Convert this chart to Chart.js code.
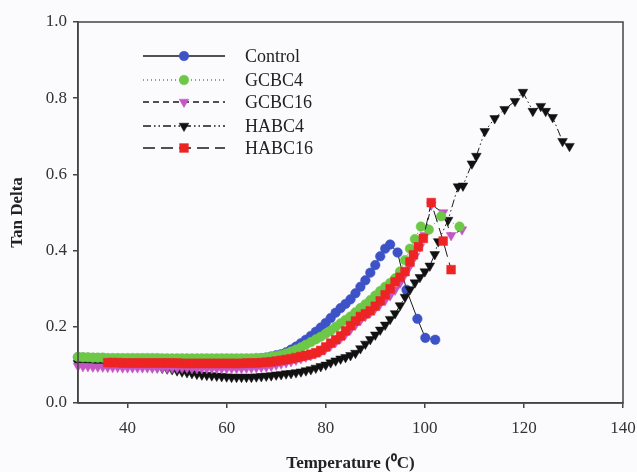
<!DOCTYPE html>
<html>
<head>
<meta charset="utf-8">
<script src="https://cdn.jsdelivr.net/npm/chart.js@4.4.1/dist/chart.umd.min.js"></script>
<style>
  html, body { margin: 0; padding: 0; background: #fbfbfd; }
  #wrap { width: 637px; height: 472px; }
</style>
</head>
<body>
<div id="wrap"><canvas id="c" width="637" height="472"></canvas></div>
<script>
// ---- Data ----
const seriesNames = ['Control', 'GCBC4', 'GCBC16', 'HABC4', 'HABC16'];
const xTicks = [40, 60, 80, 100, 120, 140];
const yTicks = [0.0, 0.2, 0.4, 0.6, 0.8, 1.0];

const controlX = [30,31,32,33,34,35,36,37,38,39,40,41,42,43,44,45,46,47,48,49,50,51,52,53,54,55,56,57,58,59,60,61,62,63,64,65,66,67,68,69,70,71,72,73,74,75,76,77,78,79,80,81,82,83,84,85,86,87,88,89,90,91,92,93,94.5,96.3,98.5,100.1,102.1];
const controlY = [0.120,0.119,0.118,0.118,0.117,0.117,0.116,0.116,0.116,0.115,0.115,0.115,0.115,0.114,0.114,0.114,0.114,0.113,0.113,0.113,0.113,0.112,0.112,0.112,0.112,0.112,0.112,0.112,0.112,0.112,0.112,0.112,0.113,0.113,0.114,0.115,0.116,0.117,0.119,0.122,0.125,0.128,0.133,0.140,0.148,0.157,0.166,0.176,0.187,0.198,0.210,0.223,0.237,0.249,0.260,0.272,0.288,0.305,0.322,0.342,0.362,0.385,0.405,0.416,0.395,0.297,0.221,0.171,0.166];

const gc4X = [30,31,32,33,34,35,36,37,38,39,40,41,42,43,44,45,46,47,48,49,50,51,52,53,54,55,56,57,58,59,60,61,62,63,64,65,66,67,68,69,70,71,72,73,74,75,76,77,78,79,80,81,82,83,84,85,86,87,88,89,90,91,92,93,94,95,96,97,98,99.2,100.8,103.3,107];
const gc4Y = [0.121,0.120,0.120,0.119,0.119,0.119,0.118,0.118,0.118,0.118,0.118,0.118,0.118,0.118,0.118,0.118,0.118,0.117,0.117,0.117,0.117,0.117,0.117,0.117,0.117,0.117,0.117,0.117,0.117,0.117,0.117,0.117,0.117,0.117,0.117,0.117,0.118,0.118,0.119,0.121,0.123,0.126,0.130,0.135,0.140,0.146,0.153,0.160,0.167,0.174,0.182,0.190,0.200,0.209,0.218,0.227,0.238,0.249,0.259,0.270,0.282,0.294,0.305,0.315,0.327,0.345,0.375,0.405,0.430,0.463,0.455,0.490,0.463];

const gc16X = [30,31,32,33,34,35,36,37,38,39,40,41,42,43,44,45,46,47,48,49,50,51,52,53,54,55,56,57,58,59,60,61,62,63,64,65,66,67,68,69,70,71,72,73,74,75,76,77,78,79,80,81,82,83,84,85,86,87,88,89,90,91,92,93,94,95,96,97,98,99,100,101.3,103.7,105.3,107.5];
const gc16Y = [0.097,0.096,0.096,0.095,0.095,0.095,0.094,0.094,0.094,0.093,0.093,0.093,0.093,0.093,0.093,0.092,0.092,0.092,0.092,0.092,0.092,0.092,0.092,0.091,0.091,0.091,0.091,0.091,0.091,0.091,0.091,0.091,0.091,0.091,0.092,0.092,0.093,0.094,0.095,0.097,0.100,0.103,0.106,0.109,0.113,0.117,0.121,0.125,0.130,0.136,0.143,0.151,0.160,0.170,0.181,0.193,0.205,0.217,0.228,0.238,0.249,0.260,0.270,0.282,0.297,0.315,0.338,0.360,0.385,0.410,0.440,0.520,0.500,0.440,0.455];

const ha4X = [30,31,32,33,34,35,36,37,38,39,40,41,42,43,44,45,46,47,48,49,50,51,52,53,54,55,56,57,58,59,60,61,62,63,64,65,66,67,68,69,70,71,72,73,74,75,76,77,78,79,80,81,82,83,84,85,86,87,88,89,90,91,92,93,94,95,96,97,98,99,100,101,102,102.7,104.7,106.7,107.7,109.5,110.4,112.1,114.1,116.1,118.2,119.8,121.8,123.4,124.4,125.8,127.8,129.2];
const ha4Y = [0.104,0.103,0.103,0.102,0.102,0.101,0.100,0.100,0.100,0.100,0.099,0.099,0.098,0.098,0.097,0.096,0.094,0.092,0.090,0.088,0.085,0.082,0.080,0.078,0.076,0.074,0.073,0.072,0.071,0.070,0.069,0.068,0.068,0.068,0.068,0.068,0.069,0.070,0.071,0.072,0.074,0.075,0.077,0.078,0.080,0.082,0.085,0.088,0.092,0.096,0.100,0.106,0.111,0.116,0.120,0.125,0.131,0.143,0.155,0.167,0.179,0.192,0.205,0.220,0.235,0.256,0.278,0.298,0.316,0.330,0.345,0.360,0.390,0.424,0.480,0.568,0.570,0.628,0.648,0.713,0.747,0.771,0.792,0.816,0.766,0.779,0.766,0.750,0.687,0.674];

const ha16X = [36,37,38,39,40,41,42,43,44,45,46,47,48,49,50,51,52,53,54,55,56,57,58,59,60,61,62,63,64,65,66,67,68,69,70,71,72,73,74,75,76,77,78,79,80,81,82,83,84,85,86,87,88,89,90,91,92,93,94,95,96,97,97.7,98.7,99.7,101.3,103.7,105.3];
const ha16Y = [0.106,0.106,0.106,0.105,0.105,0.105,0.105,0.105,0.105,0.105,0.105,0.105,0.105,0.105,0.105,0.104,0.104,0.104,0.104,0.104,0.104,0.104,0.104,0.104,0.104,0.104,0.104,0.104,0.105,0.105,0.105,0.106,0.107,0.108,0.110,0.112,0.114,0.116,0.119,0.122,0.125,0.128,0.132,0.138,0.147,0.157,0.166,0.176,0.189,0.203,0.215,0.227,0.234,0.242,0.254,0.268,0.284,0.300,0.318,0.330,0.345,0.370,0.389,0.410,0.432,0.526,0.425,0.350];

function pts(xs, ys) { return xs.map((x, i) => ({ x: x, y: ys[i] })); }

const FONT = "'Liberation Serif', 'Times New Roman', serif";

const datasets = [
  { label: seriesNames[0], data: pts(controlX, controlY), borderColor: '#1a1a1a', borderWidth: 1, borderDash: [],
    pointStyle: 'circle', pointRadius: 4.8, pointRotation: 0, pointBackgroundColor: '#3c52c6', pointBorderColor: '#3c52c6', pointBorderWidth: 0.5, order: 4 },
  { label: seriesNames[1], data: pts(gc4X, gc4Y), borderColor: '#777777', borderWidth: 1, borderDash: [1, 3],
    pointStyle: 'circle', pointRadius: 4.8, pointRotation: 0, pointBackgroundColor: '#6cc846', pointBorderColor: '#6cc846', pointBorderWidth: 0.5, order: 1 },
  { label: seriesNames[2], data: pts(gc16X, gc16Y), borderColor: '#1a1a1a', borderWidth: 1, borderDash: [6, 4],
    pointStyle: 'triangle', pointRadius: 5.6, pointRotation: 180, pointBackgroundColor: '#c456c4', pointBorderColor: '#c456c4', pointBorderWidth: 0.5, order: 2 },
  { label: seriesNames[3], data: pts(ha4X, ha4Y), borderColor: '#1a1a1a', borderWidth: 1, borderDash: [8, 3, 1.5, 3, 1.5, 3],
    pointStyle: 'triangle', pointRadius: 5.6, pointRotation: 180, pointBackgroundColor: '#111111', pointBorderColor: '#111111', pointBorderWidth: 0.5, order: 3 },
  { label: seriesNames[4], data: pts(ha16X, ha16Y), borderColor: '#1a1a1a', borderWidth: 1, borderDash: [12, 6],
    pointStyle: 'rect', pointRadius: 6.2, pointRotation: 0, pointBackgroundColor: '#ee2424', pointBorderColor: '#ee2424', pointBorderWidth: 0.5, order: 0 }
];

const bgPlugin = {
  id: 'bg',
  beforeDraw(chart) {
    const ctx = chart.ctx;
    ctx.save();
    ctx.fillStyle = '#fbfbfd';
    ctx.fillRect(0, 0, chart.width, chart.height);
    ctx.restore();
  }
};

const framePlugin = {
  id: 'frame',
  afterDraw(chart) {
    const a = chart.chartArea, ctx = chart.ctx;
    ctx.save();
    ctx.strokeStyle = '#444444';
    ctx.lineWidth = 1.5;
    ctx.beginPath();
    ctx.moveTo(a.left, a.bottom);
    ctx.lineTo(a.left, a.top);
    ctx.lineTo(a.right, a.top);
    ctx.lineTo(a.right, a.bottom);
    ctx.lineTo(a.left, a.bottom);
    ctx.stroke();
    ctx.restore();
  }
};

const legendPlugin = {
  id: 'customLegend',
  afterDraw(chart) {
    const ctx = chart.ctx;
    const x0 = 143, x1 = 225, xm = 184, xt = 245;
    const rows = [56, 80, 102, 126, 148];
    chart.data.datasets.forEach((ds, i) => {
      const y = rows[i];
      ctx.save();
      ctx.strokeStyle = ds.borderColor;
      ctx.lineWidth = 1.3;
      ctx.setLineDash(ds.borderDash);
      ctx.beginPath();
      ctx.moveTo(x0, y);
      ctx.lineTo(x1, y);
      ctx.stroke();
      ctx.setLineDash([]);
      ctx.fillStyle = ds.pointBackgroundColor;
      ctx.strokeStyle = ds.pointBorderColor;
      ctx.lineWidth = 0.5;
      Chart.helpers.drawPoint(ctx, { pointStyle: ds.pointStyle, radius: ds.pointRadius, rotation: ds.pointRotation, borderWidth: 0.5 }, xm, y);
      ctx.fillStyle = '#222222';
      ctx.font = "18px " + FONT;
      ctx.textBaseline = 'middle';
      ctx.textAlign = 'left';
      ctx.fillText(ds.label, xt, y + 1);
      ctx.restore();
    });
  }
};

new Chart(document.getElementById('c'), {
  type: 'line',
  data: { datasets: datasets },
  options: {
    responsive: false,
    animation: false,
    events: [],
    clip: false,
    layout: { padding: { left: 0, right: 14, top: 22, bottom: 0 } },
    plugins: { legend: { display: false }, tooltip: { enabled: false }, title: { display: false } },
    scales: {
      x: {
        type: 'linear', min: 30, max: 140,
        afterBuildTicks(axis) { axis.ticks = xTicks.map(v => ({ value: v })); },
        afterFit(axis) { axis.height = 69; axis.paddingLeft = 0; axis.paddingRight = 0; },
        border: { display: true, color: '#444444', width: 1.5 },
        grid: { display: true, drawOnChartArea: false, drawTicks: true, tickLength: 5, color: '#444444', lineWidth: 1.5 },
        ticks: { color: '#333333', font: { family: FONT, size: 17 }, padding: 10, maxRotation: 0, callback: v => String(v) },
        title: { display: true, text: 'Temperature (\u2070C)', color: '#222222', font: { family: FONT, size: 17, weight: 'bold' }, padding: { top: 4, bottom: -2 } }
      },
      y: {
        type: 'linear', min: 0, max: 1,
        afterBuildTicks(axis) { axis.ticks = yTicks.map(v => ({ value: v })); },
        afterFit(axis) { axis.width = 78; axis.paddingTop = 0; axis.paddingBottom = 0; },
        border: { display: true, color: '#444444', width: 1.5 },
        grid: { display: true, drawOnChartArea: false, drawTicks: true, tickLength: 5, color: '#444444', lineWidth: 1.5 },
        ticks: { color: '#333333', font: { family: FONT, size: 17 }, padding: 6, callback: v => v.toFixed(1) },
        title: { display: true, text: 'Tan Delta', color: '#222222', font: { family: FONT, size: 17, weight: 'bold' }, padding: { top: 7, bottom: 0 } }
      }
    }
  },
  plugins: [bgPlugin, framePlugin, legendPlugin]
});
</script>
</body>
</html>
